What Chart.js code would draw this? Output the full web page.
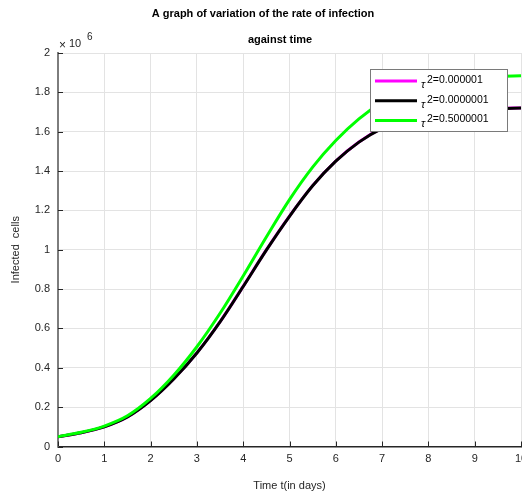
<!DOCTYPE html>
<html>
<head>
<meta charset="utf-8">
<script src="https://cdn.jsdelivr.net/npm/chart.js@4"></script>
<style>
  html, body { margin: 0; padding: 0; background: #fff; }
  #wrap { width: 522px; height: 497px; }
</style>
</head>
<body>
<div id="wrap"><canvas id="chart" width="522" height="497"></canvas></div>
<script>
// time in days, values in units of 10^6 infected cells
const times = [0, 0.5, 1, 1.5, 2, 2.5, 3, 3.5, 4, 4.5, 5, 5.5, 6, 6.5, 7, 7.5, 8, 8.5, 9, 9.5, 10]
const tau1 = [0.05, 0.07, 0.1, 0.15, 0.234, 0.344, 0.476, 0.634, 0.814, 0.999, 1.171, 1.326, 1.451, 1.548, 1.618, 1.663, 1.691, 1.706, 1.714, 1.718, 1.721]
const tau2 = [0.05, 0.07, 0.1, 0.15, 0.233, 0.343, 0.475, 0.633, 0.813, 0.998, 1.17, 1.325, 1.45, 1.547, 1.617, 1.662, 1.69, 1.705, 1.713, 1.717, 1.72]
const tau3 = [0.05, 0.072, 0.104, 0.156, 0.244, 0.362, 0.507, 0.677, 0.867, 1.065, 1.255, 1.42, 1.555, 1.665, 1.75, 1.808, 1.844, 1.864, 1.875, 1.881, 1.884]
const labels = ["2=0.000001", "2=0.0000001", "2=0.5000001"]
const colors = ["#ff00ff", "#000000", "#00ff00"]
const xTicks = [0, 1, 2, 3, 4, 5, 6, 7, 8, 9, 10]
const yTicks = [0, 0.2, 0.4, 0.6, 0.8, 1, 1.2, 1.4, 1.6, 1.8, 2]

const FONT = "'Liberation Sans', Arial, sans-serif"
const TXT = "#262626"

function points(vals) {
    return times.map((t, i) => ({ x: t, y: vals[i] }))
}

const extras = {
    id: "extras",
    afterDraw(chart) {
        const ctx = chart.ctx
        const xs = chart.scales.x
        const ys = chart.scales.y
        const area = chart.chartArea
        ctx.save()

        // inward tick marks
        ctx.strokeStyle = TXT
        ctx.lineWidth = 1
        for (const v of xTicks) {
            const px = Math.round(xs.getPixelForValue(v)) + 0.5
            ctx.beginPath()
            ctx.moveTo(px, area.bottom)
            ctx.lineTo(px, area.bottom - 5)
            ctx.stroke()
        }
        for (const v of yTicks) {
            const py = Math.round(ys.getPixelForValue(v)) + 0.5
            ctx.beginPath()
            ctx.moveTo(area.left, py)
            ctx.lineTo(area.left + 5, py)
            ctx.stroke()
        }

        // title
        ctx.fillStyle = "#000"
        ctx.font = "bold 11px " + FONT
        ctx.textAlign = "center"
        ctx.textBaseline = "middle"
        ctx.fillText("A graph of variation of the rate of infection", 263, 14)
        ctx.fillText("against time", 280, 40)

        // exponent label
        ctx.fillStyle = TXT
        ctx.font = "12px " + FONT
        ctx.textAlign = "left"
        ctx.fillText("\u00d7", 59, 46)
        ctx.font = "11px " + FONT
        ctx.fillText("10", 69, 44)
        ctx.font = "10px " + FONT
        ctx.fillText("6", 87, 37)

        // legend box
        const bx = 370, by = 69, bw = 137, bh = 62
        ctx.fillStyle = "#fff"
        ctx.fillRect(bx, by, bw, bh)
        ctx.strokeStyle = "#7a7a7a"
        ctx.lineWidth = 1
        ctx.strokeRect(bx + 0.5, by + 0.5, bw, bh)
        chart.data.datasets.forEach((ds, i) => {
            const ly = 81 + i * 19.7
            ctx.strokeStyle = ds.borderColor
            ctx.lineWidth = 3
            ctx.beginPath()
            ctx.moveTo(375, ly)
            ctx.lineTo(417, ly)
            ctx.stroke()
            ctx.fillStyle = "#000"
            ctx.font = "italic 11px " + FONT
            ctx.fillText("\u03c4", 421, ly + 4)
            ctx.font = "10.5px " + FONT
            ctx.fillText(ds.label, 427, ly - 1)
        })
        ctx.restore()
    }
}

const ctx = document.getElementById("chart").getContext("2d")
const myChart = new Chart(ctx, {
    type: "line",
    data: {
        datasets: [
            { label: labels[0], data: points(tau1), borderColor: colors[0], order: 3 },
            { label: labels[1], data: points(tau2), borderColor: colors[1], order: 2 },
            { label: labels[2], data: points(tau3), borderColor: colors[2], order: 1 }
        ].map((ds) => ({
            ...ds,
            borderWidth: 3,
            pointRadius: 0,
            fill: false,
            cubicInterpolationMode: "monotone"
        }))
    },
    options: {
        responsive: false,
        animation: false,
        events: [],
        layout: { padding: { top: 53, right: 1, left: 0, bottom: 0 } },
        plugins: {
            legend: { display: false },
            title: { display: false },
            tooltip: { enabled: false }
        },
        scales: {
            x: {
                type: "linear",
                min: 0,
                max: 10,
                afterBuildTicks: (scale) => { scale.ticks = xTicks.map((v) => ({ value: v })) },
                afterFit: (scale) => {
                    scale.height = 50.5
                    scale.paddingLeft = 0
                    scale.paddingRight = 0
                },
                ticks: { color: TXT, font: { family: FONT, size: 11 }, padding: 6, maxRotation: 0 },
                grid: { color: "#e3e3e3", lineWidth: 1, tickLength: 0 },
                border: { color: TXT, width: 1.5 },
                title: {
                    display: true,
                    text: "Time t(in days)",
                    color: TXT,
                    font: { family: FONT, size: 11 },
                    padding: { top: 4, bottom: 4 }
                }
            },
            y: {
                min: 0,
                max: 2,
                afterBuildTicks: (scale) => { scale.ticks = yTicks.map((v) => ({ value: v })) },
                afterFit: (scale) => {
                    scale.width = 58
                    scale.paddingTop = 0
                    scale.paddingBottom = 0
                },
                ticks: {
                    color: TXT,
                    font: { family: FONT, size: 11 },
                    padding: 8,
                    callback: (v) => String(Math.round(v * 10) / 10)
                },
                grid: { color: "#e3e3e3", lineWidth: 1, tickLength: 0 },
                border: { color: "#7d7d7d", width: 2 },
                title: {
                    display: true,
                    text: "Infected  cells",
                    color: TXT,
                    font: { family: FONT, size: 11 },
                    padding: { top: 9, bottom: 0 }
                }
            }
        }
    },
    plugins: [extras]
})
</script>
</body>
</html>
